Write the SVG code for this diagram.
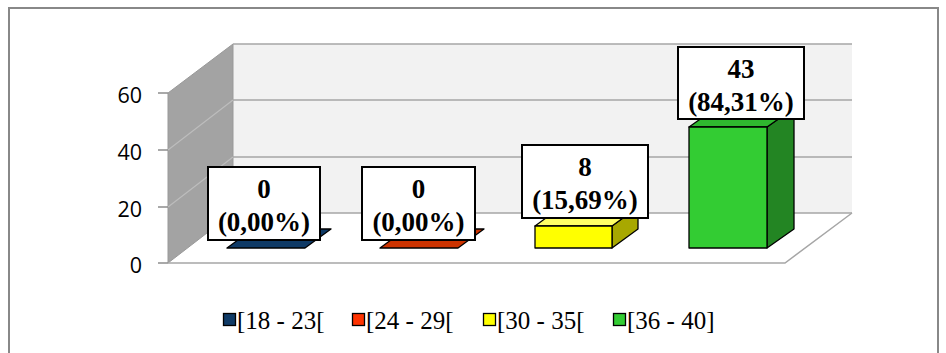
<svg xmlns="http://www.w3.org/2000/svg" width="946" height="353" viewBox="0 0 946 353">
<style>
.grid{stroke:#a6a6a6;stroke-width:1.5;fill:none}
.sgrid{stroke:#bdbdbd;stroke-width:1.2;fill:none}
.tick{stroke:#8c8c8c;stroke-width:1.5}
.ax{font-family:"Open Sans","Liberation Sans",sans-serif;font-size:21.5px;fill:#000;text-anchor:end}
.lbl{fill:#fff;stroke:#000;stroke-width:2}
.lt{font-family:"Liberation Serif","Times New Roman",serif;font-size:27px;font-weight:bold;fill:#000;text-anchor:middle}
.leg{font-family:"Liberation Serif","Times New Roman",serif;font-size:25px;fill:#000}
.bar{stroke:#000;stroke-width:1.3;stroke-linejoin:round}
.sw{stroke:#000;stroke-width:1.3}
</style>
<rect x="0" y="0" width="946" height="353" fill="#fff"/>
<rect x="9" y="8" width="929" height="352" fill="#fff" stroke="#888" stroke-width="2"/>
<g id="chart-walls">
<polygon points="233,44 852,44 852,213 233,213" fill="#f2f2f2"/>
<polygon points="168,93 233,44 233,213 168,263" fill="#a3a3a3" stroke="#999" stroke-width="1"/>
<line class="grid" x1="233" y1="44" x2="852" y2="44"/>
<line class="grid" x1="233" y1="100" x2="852" y2="100"/>
<line class="grid" x1="233" y1="157" x2="852" y2="157"/>
<line class="grid" x1="233" y1="213" x2="852" y2="213"/>
<line class="sgrid" x1="168" y1="150" x2="233" y2="100"/>
<line class="sgrid" x1="168" y1="207" x2="233" y2="157"/>
<polyline class="grid" points="168,263 785,263 852,213"/>
<line class="tick" x1="158" y1="93" x2="168" y2="93"/>
<line class="tick" x1="158" y1="150" x2="168" y2="150"/>
<line class="tick" x1="158" y1="207" x2="168" y2="207"/>
<line class="tick" x1="158" y1="263" x2="168" y2="263"/>
<text class="ax" x="142" y="103">60</text>
<text class="ax" x="142" y="160">40</text>
<text class="ax" x="142" y="217">20</text>
<text class="ax" x="142" y="273">0</text>
</g>
<g id="bar-18-23">
<polygon class="bar" points="227,248 305,248 331,229 253,229" fill="#0f3a66"/>
</g>
<g id="bar-24-29">
<polygon class="bar" points="380,248 458,248 484,229 406,229" fill="#cc3300"/>
</g>
<g id="bar-30-35">
<polygon class="bar" points="612,226 638,207 638,229 612,248" fill="#a8a800"/>
<polygon class="bar" points="535,226 612,226 638,207 561,207" fill="#ffff66"/>
<rect class="bar" x="535" y="226" width="77" height="22" fill="#ffff00"/>
</g>
<g id="bar-36-40">
<polygon class="bar" points="767,127 794,108 794,229 767,248" fill="#238523"/>
<polygon class="bar" points="689,127 767,127 794,108 716,108" fill="#2fb82f"/>
<rect class="bar" x="689" y="127" width="78" height="121" fill="#33cc33"/>
</g>
<g id="label-18-23">
<rect class="lbl" x="208" y="167" width="112" height="73"/>
<text class="lt" x="264" y="198">0</text>
<text class="lt" x="264" y="231">(0,00%)</text>
</g>
<g id="label-24-29">
<rect class="lbl" x="362" y="167" width="113" height="73"/>
<text class="lt" x="418.5" y="198">0</text>
<text class="lt" x="418.5" y="231">(0,00%)</text>
</g>
<g id="label-30-35">
<rect class="lbl" x="522" y="145" width="126" height="73"/>
<text class="lt" x="585" y="176">8</text>
<text class="lt" x="585" y="209">(15,69%)</text>
</g>
<g id="label-36-40">
<rect class="lbl" x="678" y="47" width="126" height="72"/>
<text class="lt" x="741" y="78">43</text>
<text class="lt" x="741" y="111">(84,31%)</text>
</g>
<g id="connectors"></g>
<g id="legend">
<rect class="sw" x="223.5" y="313.5" width="12" height="12" fill="#0f3a66"/>
<text class="leg" x="237" y="329">[18 - 23[</text>
<rect class="sw" x="352.5" y="313.5" width="12" height="12" fill="#ff3300"/>
<text class="leg" x="366" y="329">[24 - 29[</text>
<rect class="sw" x="483.5" y="313.5" width="12" height="12" fill="#ffff00"/>
<text class="leg" x="497" y="329">[30 - 35[</text>
<rect class="sw" x="613.5" y="313.5" width="12" height="12" fill="#33cc33"/>
<text class="leg" x="627" y="329">[36 - 40]</text>
</g>
</svg>
